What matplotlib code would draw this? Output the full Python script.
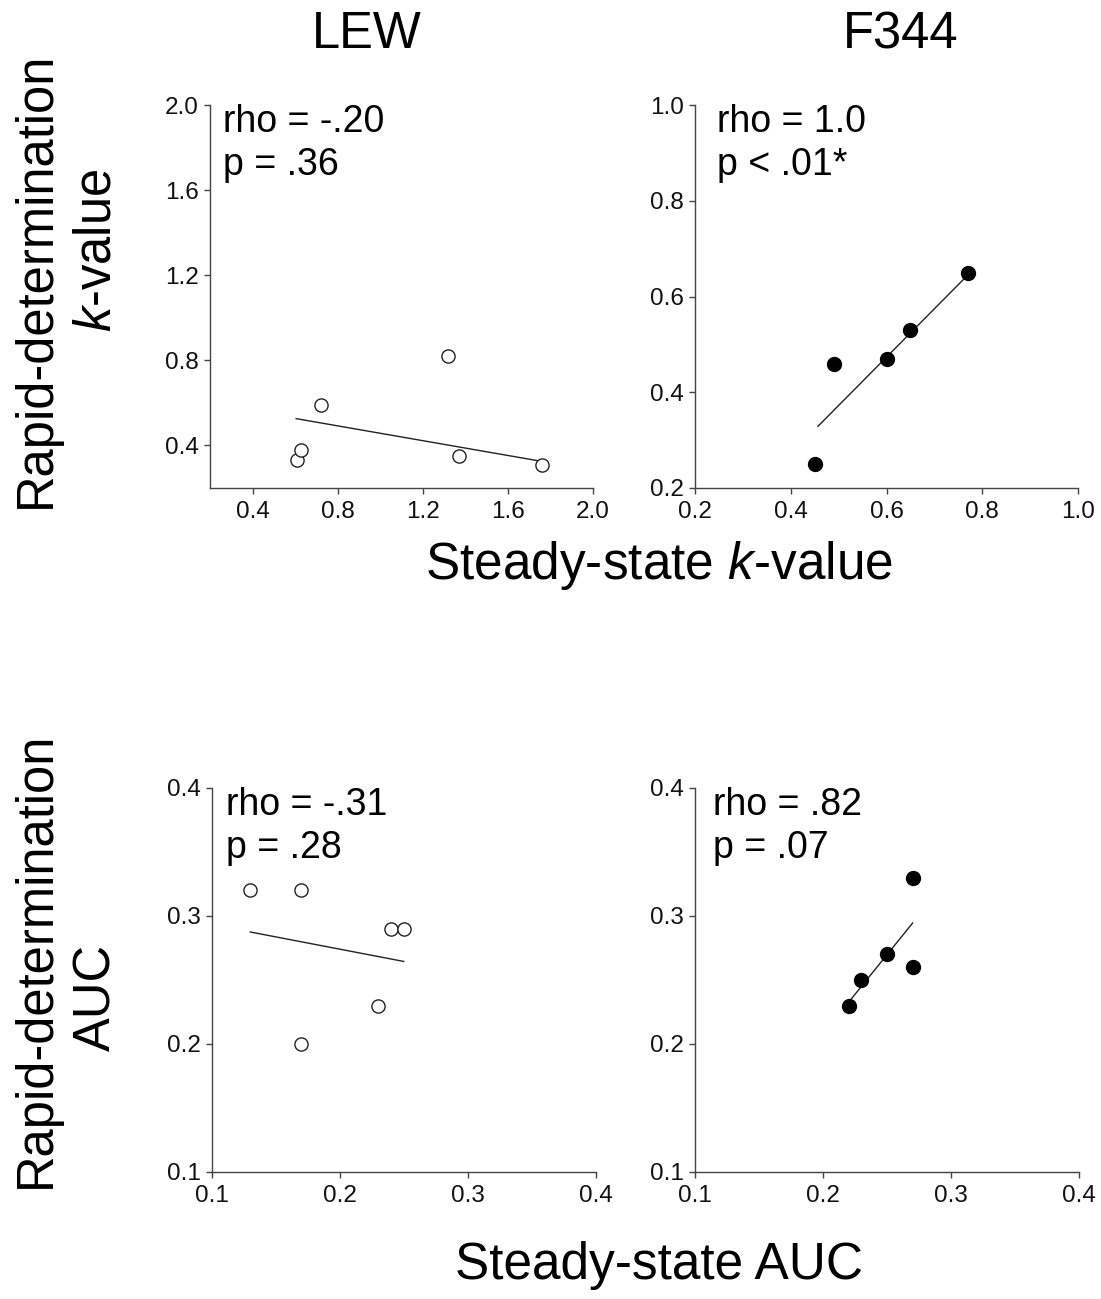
import matplotlib
matplotlib.use("Agg")
import matplotlib.pyplot as plt

plt.rcParams["font.family"] = ["Liberation Sans", "DejaVu Sans"]
plt.rcParams["mathtext.fontset"] = "custom"
plt.rcParams["mathtext.it"] = "Liberation Sans:italic"
plt.rcParams["mathtext.rm"] = "Liberation Sans"

# k-value panels
lew_k_x = [0.61, 0.63, 0.72, 1.32, 1.37, 1.76]
lew_k_y = [0.33, 0.38, 0.59, 0.82, 0.35, 0.31]
lew_k_fit_x = [0.605, 1.76]
lew_k_fit_y = [0.526, 0.325]

f344_k_x = [0.45, 0.49, 0.60, 0.65, 0.77]
f344_k_y = [0.25, 0.46, 0.47, 0.53, 0.65]
f344_k_fit_x = [0.457, 0.77]
f344_k_fit_y = [0.329, 0.645]

# AUC panels
lew_auc_x = [0.13, 0.17, 0.17, 0.23, 0.24, 0.25]
lew_auc_y = [0.32, 0.32, 0.20, 0.23, 0.29, 0.29]
lew_auc_fit_x = [0.13, 0.25]
lew_auc_fit_y = [0.2875, 0.2645]

f344_auc_x = [0.22, 0.23, 0.25, 0.27, 0.27]
f344_auc_y = [0.23, 0.25, 0.27, 0.33, 0.26]
f344_auc_fit_x = [0.2216, 0.27]
f344_auc_fit_y = [0.2346, 0.2945]

stats = [("rho = -.20", "p = .36"), ("rho = 1.0", "p < .01*"),
         ("rho = -.31", "p = .28"), ("rho = .82", "p = .07")]

k_ticks_lew = [0.4, 0.8, 1.2, 1.6, 2.0]
k_ticks_f344 = [0.2, 0.4, 0.6, 0.8, 1.0]
auc_ticks = [0.1, 0.2, 0.3, 0.4]

W, H = 1101, 1299
fig = plt.figure(figsize=(W / 100, H / 100), dpi=100)


def px_rect(left, top, right, bottom):
    return [left / W, 1 - bottom / H, (right - left) / W, (bottom - top) / H]


panels = [
    (px_rect(210, 105, 593, 488), lew_k_x, lew_k_y, lew_k_fit_x, lew_k_fit_y,
     False, (0.2, 2.0), k_ticks_lew, 0.033),
    (px_rect(695, 105, 1078, 488), f344_k_x, f344_k_y, f344_k_fit_x, f344_k_fit_y,
     True, (0.2, 1.0), k_ticks_f344, 0.057),
    (px_rect(212, 788, 595.5, 1172), lew_auc_x, lew_auc_y, lew_auc_fit_x, lew_auc_fit_y,
     False, (0.1, 0.4), auc_ticks, 0.037),
    (px_rect(695, 788, 1079, 1172), f344_auc_x, f344_auc_y, f344_auc_fit_x, f344_auc_fit_y,
     True, (0.1, 0.4), auc_ticks, 0.046),
]

spine_color = "#444444"
for (rect, xs, ys, fx, fy, filled, lims, ticks, tx), (s1, s2) in zip(panels, stats):
    ax = fig.add_axes(rect)
    ax.plot(fx, fy, color="#222222", lw=1.0, zorder=2)
    if filled:
        ax.plot(xs, ys, "o", ms=10, mfc="black", mec="black", zorder=3)
    else:
        ax.plot(xs, ys, "o", ms=9.5, mfc="white", mec="#222222", mew=1.0, zorder=3)
    ax.set_xlim(*lims)
    ax.set_ylim(*lims)
    ax.set_xticks(ticks)
    ax.set_yticks(ticks)
    ax.set_xticklabels([f"{t:.1f}" for t in ticks])
    ax.set_yticklabels([f"{t:.1f}" for t in ticks])
    for side in ("top", "right"):
        ax.spines[side].set_visible(False)
    for side in ("left", "bottom"):
        ax.spines[side].set_color(spine_color)
        ax.spines[side].set_linewidth(1.0)
    ax.tick_params(direction="out", length=4.5, width=1.0, color=spine_color,
                   labelsize=17.5, pad=3.5, labelcolor="#111111")
    ax.tick_params(axis="x", pad=5)
    ax.text(tx, 0.930, s1, transform=ax.transAxes, fontsize=27, va="baseline", ha="left")
    ax.text(tx, 0.817, s2, transform=ax.transAxes, fontsize=27, va="baseline", ha="left")

big = 36.5
fig.text(367 / W, 1 - 35 / H, "LEW", fontsize=big, ha="center", va="center")
fig.text(901 / W, 1 - 35 / H, "F344", fontsize=big, ha="center", va="center")

fig.text(659 / W, 1 - 566 / H, r"Steady-state $k$-value", fontsize=37, ha="center", va="center")
fig.text(659 / W, 1 - 1265 / H, "Steady-state AUC", fontsize=37, ha="center", va="center")

fig.text(36 / W, 1 - 280 / H, "Rapid-determination", fontsize=big, rotation=90,
         ha="center", va="center")
fig.text(97 / W, 1 - 250 / H, r"$k$-value", fontsize=big, rotation=90,
         ha="center", va="center")
fig.text(36 / W, 1 - 960 / H, "Rapid-determination", fontsize=big, rotation=90,
         ha="center", va="center")
fig.text(97 / W, 1 - 997 / H, "AUC", fontsize=big, rotation=90,
         ha="center", va="center")

fig.savefig("out.png", dpi=100)
